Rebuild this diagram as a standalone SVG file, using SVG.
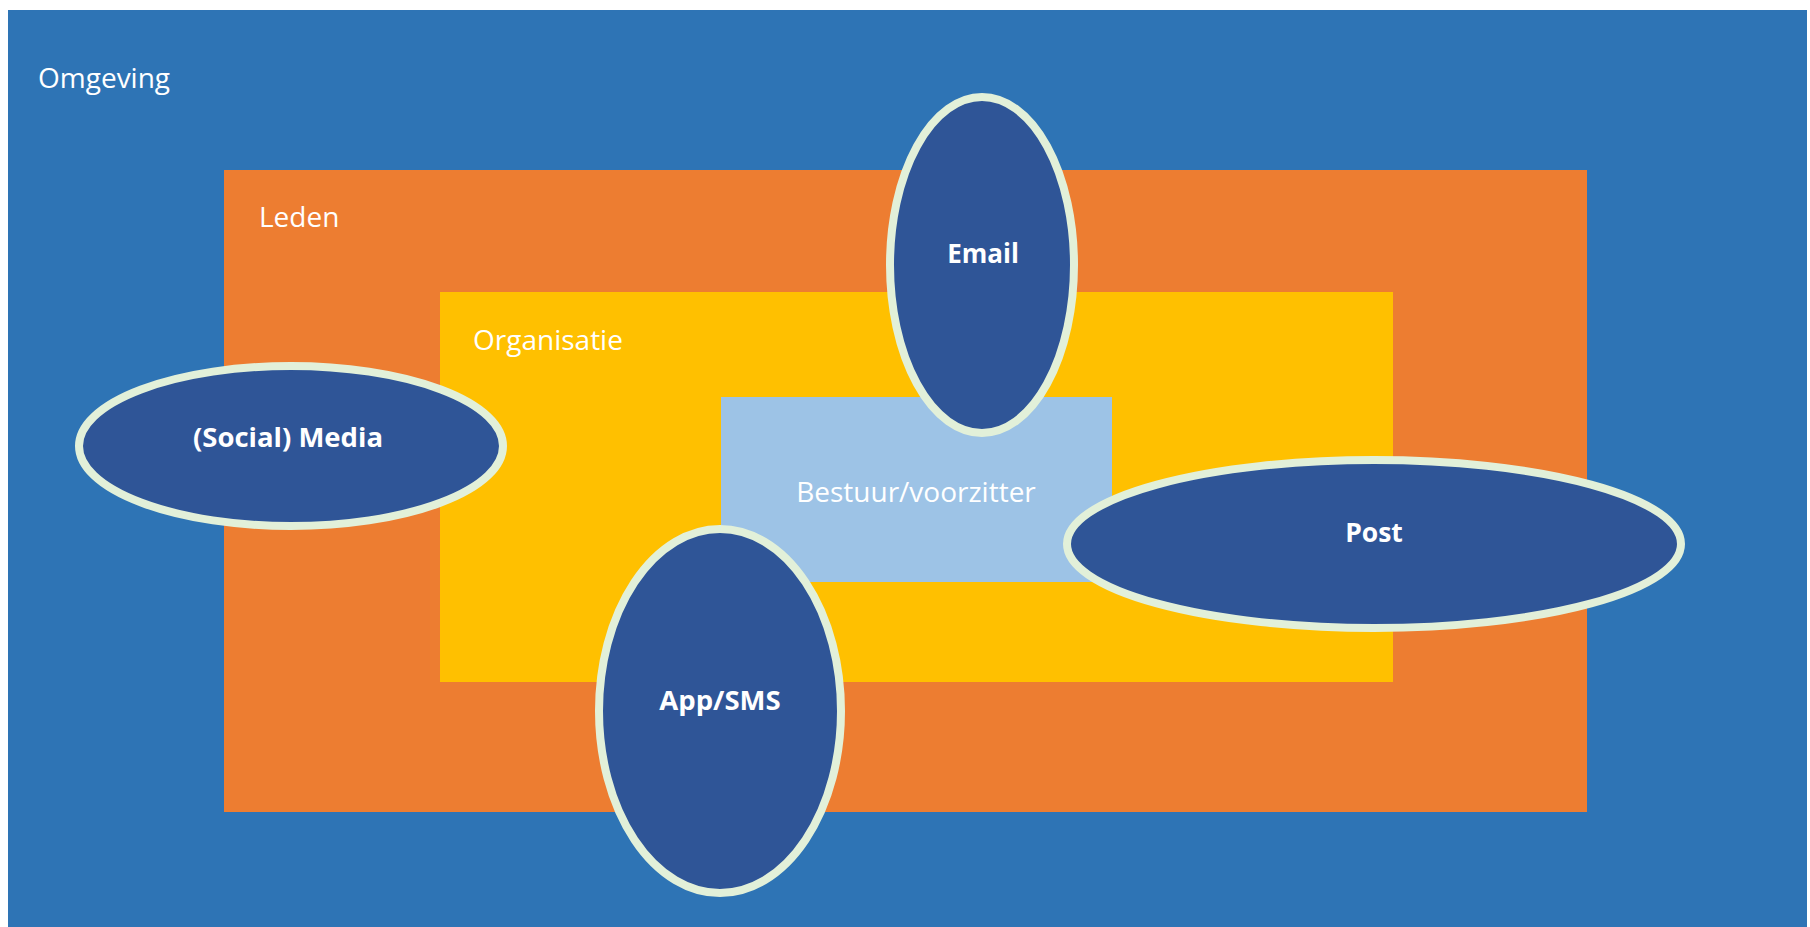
<svg xmlns="http://www.w3.org/2000/svg" width="1810" height="927" viewBox="0 0 1810 927">
<style>
.lbl{font-family:"Open Sans","Noto Sans",sans-serif;fill:#ffffff;font-size:28px}
.b{font-weight:bold;font-size:26px;text-anchor:middle}
.ch{fill:#2F5597;stroke:#E2F0D9;stroke-width:8}
</style>
<rect width="1810" height="927" fill="#ffffff"/>
<g id="omgeving">
<rect x="8" y="10" width="1799" height="917" fill="#2E74B5"/>
<text class="lbl" x="38" y="88">Omgeving</text>
</g>
<g id="leden">
<rect x="224" y="170" width="1363" height="642" fill="#ED7D31"/>
<text class="lbl" x="259" y="227">Leden</text>
</g>
<g id="organisatie">
<rect x="440" y="292" width="953" height="390" fill="#FFC000"/>
<text class="lbl" x="473" y="350">Organisatie</text>
</g>
<g id="bestuur">
<rect x="721" y="397" width="391" height="185" fill="#9DC3E6"/>
<text class="lbl" x="916" y="502" text-anchor="middle" font-size="28.5">Bestuur/voorzitter</text>
</g>
<g id="connectors"></g>
<g id="email">
<ellipse class="ch" cx="982" cy="265" rx="92" ry="168"/>
<text class="lbl b" x="983" y="263">Email</text>
</g>
<g id="social-media">
<ellipse class="ch" cx="291" cy="446" rx="212" ry="80"/>
<text class="lbl b" x="288" y="447" style="font-size:27.5px">(Social) Media</text>
</g>
<g id="app-sms">
<ellipse class="ch" cx="720" cy="711" rx="121" ry="182"/>
<text class="lbl b" x="720" y="710" style="font-size:27.5px">App/SMS</text>
</g>
<g id="post">
<ellipse class="ch" cx="1374" cy="544" rx="307" ry="84"/>
<text class="lbl b" x="1374" y="542" style="font-size:26.5px">Post</text>
</g>
</svg>
